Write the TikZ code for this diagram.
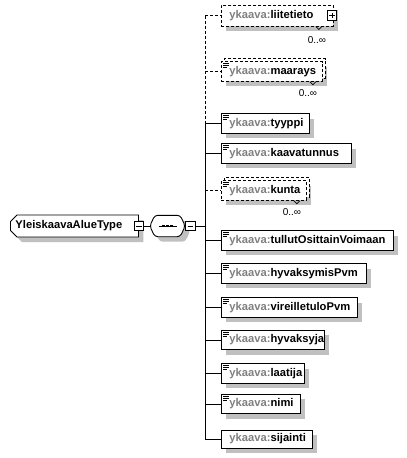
\documentclass[tikz,border=0pt]{standalone}
\usepackage{fontspec}
\setmainfont{Liberation Sans}
\usetikzlibrary{shadows,shapes.misc}
\definecolor{pfxgray}{RGB}{128,128,128}
\definecolor{shadowgray}{RGB}{192,192,192}
\newcommand{\yk}[1]{\mbox{\hspace*{4pt}{\color{pfxgray}ykaava:}#1}}
\newcommand{\simpleicon}[1]{\draw[icon] ([shift={(2,2.5)}]#1.north west) -- ++(6,0) ++(-6,1.8) -- ++(6,0) ++(-6,1.8) -- ++(4,0);}
\tikzset{
  shade/.style={drop shadow={shadow xshift=5pt,shadow yshift=-5pt,fill=shadowgray,opacity=1}},
  elem/.style={draw,fill=white,line width=.9pt,inner xsep=4pt,inner ysep=0pt,minimum height=19.5pt,
    anchor=west,align=left,text width=#1,font=\bfseries\fontsize{11.2}{13}\selectfont,shade},
  opt/.style={dash pattern=on 3pt off 2pt},
  multi/.style={copy shadow={shadow xshift=3pt,shadow yshift=3pt,draw=black,fill=white,line width=.9pt,opt,opacity=1}},
  pmbox/.style={draw,fill=white,line width=.8pt,minimum size=9.5pt,inner sep=0pt},
  minus/.style={pmbox,path picture={\draw ([xshift=2pt]path picture bounding box.west) -- ([xshift=-2pt]path picture bounding box.east);}},
  plus/.style={pmbox,path picture={\draw ([xshift=2pt]path picture bounding box.west) -- ([xshift=-2pt]path picture bounding box.east);
    \draw ([yshift=2pt]path picture bounding box.south) -- ([yshift=-2pt]path picture bounding box.north);}},
  mult/.style={font=\fontsize{10}{12}\selectfont,inner sep=0pt},
  icon/.style={line width=.7pt},
  link/.style={line width=.9pt}
}
\begin{document}
\begin{tikzpicture}[x=1pt,y=-1pt]
  \useasboundingbox (0,0) rectangle (407,458);
  % complex type and sequence
  \node[chamfered rectangle,chamfered rectangle corners={north west,south west},chamfered rectangle xsep=3pt,
    draw,fill=white,line width=.9pt,inner xsep=2pt,inner ysep=0pt,minimum height=22pt,text width=118pt,align=left,
    font=\bfseries\fontsize{11.2}{13}\selectfont,shade,anchor=west] (type) at (10,226) {YleiskaavaAlueType};
  \node[minus] (typeminus) at (type.east) {};
  \node[minimum width=35pt,minimum height=21pt,inner sep=0pt] (seq) at (167.5,226) {};
  \draw[link,fill=white,rounded corners=3pt,shade] (seq.west) -- ([xshift=5pt]seq.north west) -- ([xshift=-5pt]seq.north east)
    -- (seq.east) -- ([xshift=-5pt]seq.south east) -- ([xshift=5pt]seq.south west) -- cycle;
  \draw[link] ([xshift=-9pt]seq.center) -- ([xshift=9pt]seq.center);
  \foreach \dx in {-4,0,4}
    \fill ([xshift=\dx pt]seq.center) +(-1.3,-1.3) rectangle +(1.3,1.3);
  \node[minus,anchor=west] (seqminus) at (seq.east) {};
  \draw[link] (typeminus.east) -- (seq.west);
  \coordinate (bus) at (205,226);
  \draw[link] (seqminus.east) -- (bus);

  % child elements
  \node[elem=104pt,opt,minimum height=21pt] (liitetieto) at (221,15.5) {\yk{liitetieto}};
  \node[plus] (liitetietoplus) at ([xshift=-2pt]liitetieto.east) {};
  \node[elem=93pt,opt,multi] (maarays) at (221,71.5) {\yk{maarays}};
  \node[elem=80pt] (tyyppi) at (221,123.5) {\yk{tyyppi}};
  \node[elem=122pt] (kaavatunnus) at (221,153.5) {\yk{kaavatunnus}};
  \node[elem=77pt,opt,multi] (kunta) at (221,190.5) {\yk{kunta}};
  \node[elem=164pt] (tullut) at (221,240.5) {\yk{tullutOsittainVoimaan}};
  \node[elem=137pt] (hyvaksymis) at (221,273.5) {\yk{hyvaksymisPvm}};
  \node[elem=128pt] (vireilletulo) at (221,307.5) {\yk{vireilletuloPvm}};
  \node[elem=95pt] (hyvaksyja) at (221,340) {\yk{hyvaksyja}};
  \node[elem=75pt] (laatija) at (221,373.5) {\yk{laatija}};
  \node[elem=71pt] (nimi) at (221,404) {\yk{nimi}};
  \node[elem=83pt,minimum height=18pt] (sijainti) at (221,439) {\yk{sijainti}};
  \foreach \n in {maarays,tyyppi,kaavatunnus,kunta,tullut,hyvaksymis,vireilletulo,hyvaksyja,laatija,nimi}
    {\simpleicon{\n}}

  % occurrences
  \node[mult] (liitetietoocc) at ([shift={(-17,14)}]liitetieto.south east) {0..∞};
  \node[mult] (maaraysocc) at ([shift={(-15,11)}]maarays.south east) {0..∞};
  \node[mult] (kuntaocc) at ([shift={(-15,11)}]kunta.south east) {0..∞};
  \draw[icon] ([shift={(-18,0)}]liitetieto.south east) -- ++(3,3) -- ++(3,-3);
  \draw[icon] ([shift={(-13,0)}]maarays.south east) -- ++(3,3) -- ++(3,-3);
  \draw[icon] ([shift={(-13,0)}]kunta.south east) -- ++(3,3) -- ++(3,-3);

  % connectors
  \draw[link,opt] (bus |- liitetieto.west) -- (bus |- tyyppi.west);
  \draw[link] (bus |- tyyppi.west) -- (bus |- sijainti.west);
  \foreach \n in {liitetieto,maarays,kunta}
    \draw[link,opt] (bus |- \n.west) -- (\n.west);
  \foreach \n in {tyyppi,kaavatunnus,tullut,hyvaksymis,vireilletulo,hyvaksyja,laatija,nimi,sijainti}
    \draw[link] (bus |- \n.west) -- (\n.west);
\end{tikzpicture}
\end{document}
